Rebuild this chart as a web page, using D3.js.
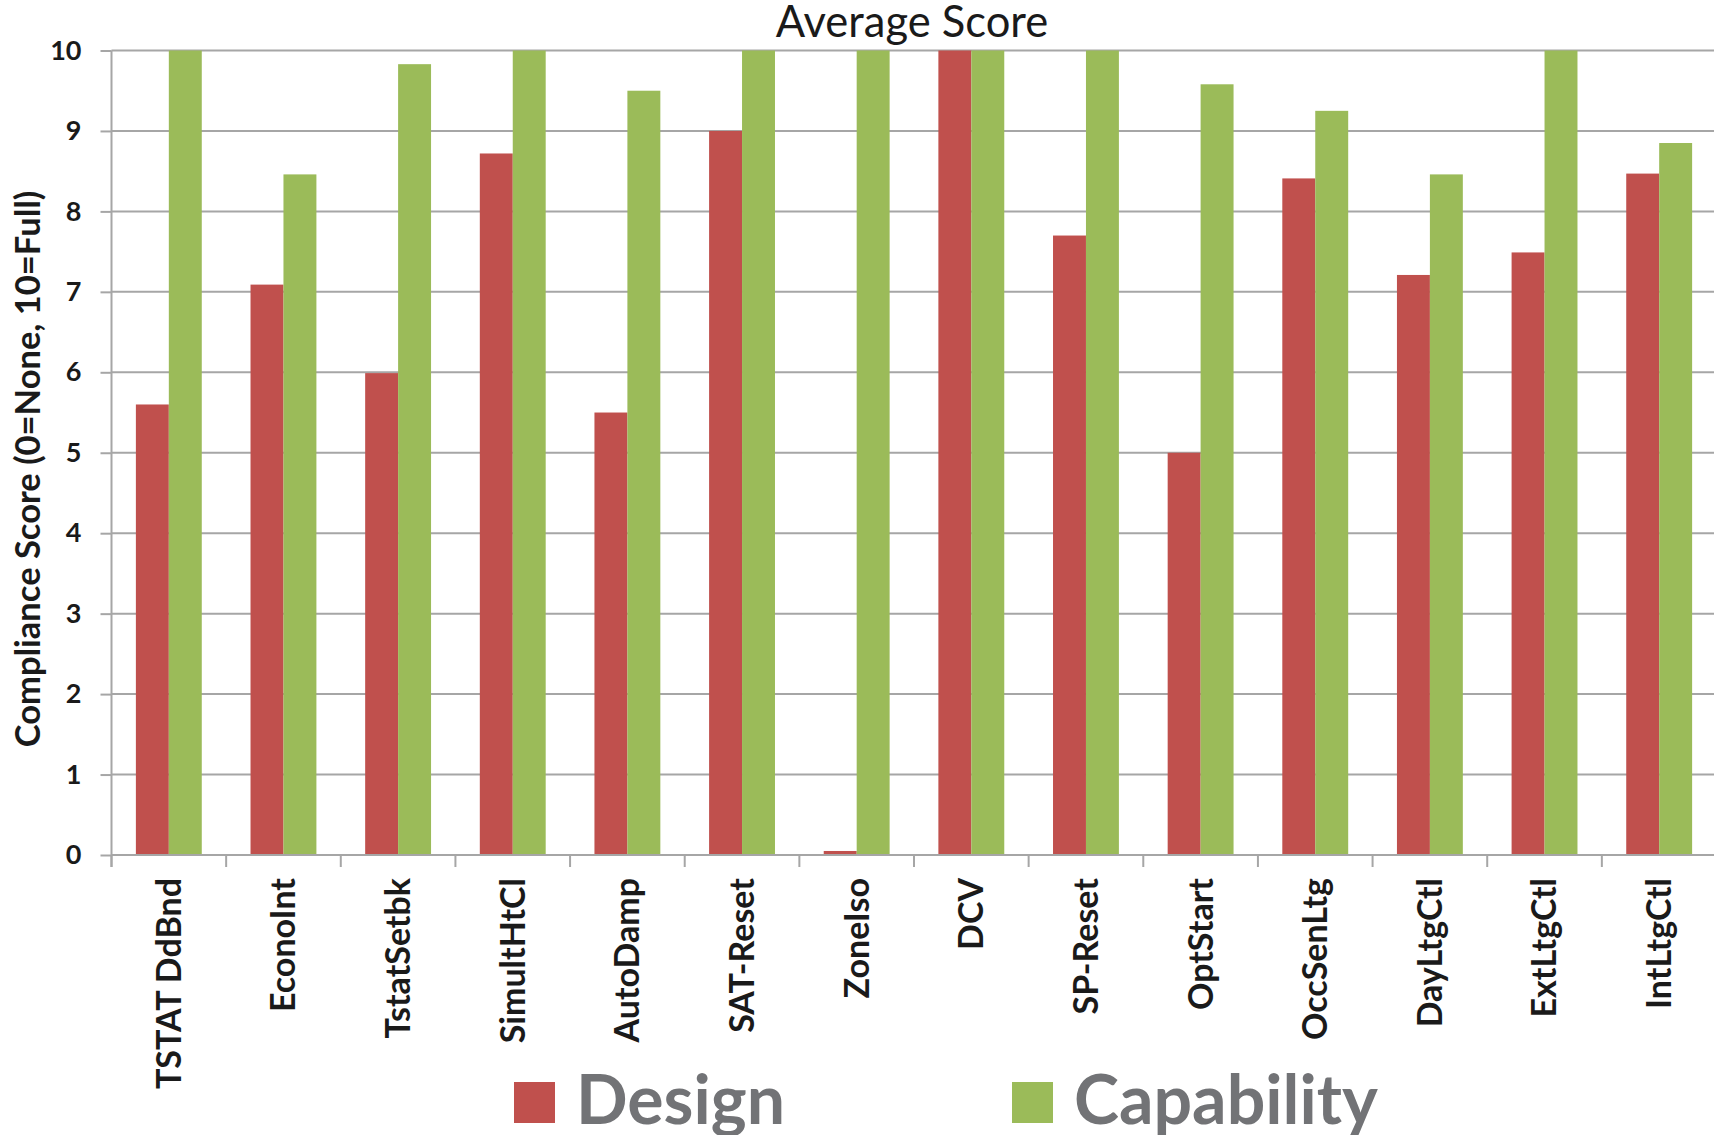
<!DOCTYPE html>
<html>
<head>
<meta charset="utf-8">
<script src="https://cdn.jsdelivr.net/npm/d3@7"></script>
<style>
  body { margin: 0; background: #fff; overflow: hidden; }
  text { font-family: Lato, "Open Sans", sans-serif; }
</style>
</head>
<body>
<div id="barchart"></div>
<script>
// data
var categories = ["TSTAT DdBnd", "EconoInt", "TstatSetbk", "SimultHtCl", "AutoDamp", "SAT-Reset",
  "ZoneIso", "DCV", "SP-Reset", "OptStart", "OccSenLtg", "DayLtgCtl", "ExtLtgCtl", "IntLtgCtl"];
var design = [5.60, 7.09, 5.99, 8.72, 5.50, 9.00, 0.05, 10.0, 7.70, 5.00, 8.41, 7.21, 7.49, 8.47];
var capability = [10.0, 8.46, 9.83, 10.0, 9.50, 10.0, 10.0, 10.0, 10.0, 9.58, 9.25, 8.46, 10.0, 8.85];
var seriesNames = ["Design", "Capability"];
var yTicks = [0, 1, 2, 3, 4, 5, 6, 7, 8, 9, 10];
var colors = ['#c0504d', '#9bbb59'];

var width = 1714,
    height = 1135;
var margin = { top: 50.5, left: 111.5 };
var innerWidth = 1605,
    innerHeight = 804.5;

function createBarchart() {

    var xScale = d3.scaleBand()
        .domain(categories)
        .range([0, innerWidth])
        .padding(0);

    var x1Scale = d3.scaleBand()
        .domain(seriesNames)
        .range([0, xScale.bandwidth()])
        .paddingInner(0)
        .paddingOuter(0.74);

    var yScale = d3.scaleLinear()
        .domain([0, 10])
        .range([innerHeight, 0]);

    var colorScale = d3.scaleOrdinal()
        .domain(seriesNames)
        .range(colors);

    var svg = d3.select("#barchart")
        .append("svg")
        .attr("width", width)
        .attr("height", height);

    var g = svg.append("g")
        .attr("transform", "translate(" + margin.left + "," + margin.top + ")");

    // gridlines
    g.append("g")
        .selectAll("line")
        .data(yTicks)
        .join("line")
        .attr("x1", 0)
        .attr("x2", innerWidth)
        .attr("y1", d => yScale(d))
        .attr("y2", d => yScale(d))
        .attr("stroke", "#a6a6a6")
        .attr("stroke-width", 2);

    // y axis
    var yAxis = d3.axisLeft(yScale)
        .tickValues(yTicks)
        .tickSize(11)
        .tickPadding(19)
        .tickFormat(d3.format("d"));

    var yG = g.append("g").call(yAxis);
    yG.select(".domain").remove();
    yG.selectAll(".tick line").attr("stroke", "#a6a6a6").attr("stroke-width", 2);
    yG.selectAll(".tick text")
        .attr("fill", "#1a1a1a")
        .style("font-size", "27px")
        .style("font-weight", "bold");

    // bars
    var rows = []
    categories.forEach(function (c, i) {
        rows.push({ cat: c, values: [{ s: "Design", v: design[i] }, { s: "Capability", v: capability[i] }] });
    });

    var cg = g.append("g")
        .selectAll("g")
        .data(rows)
        .join("g")
        .attr("transform", d => "translate(" + xScale(d.cat) + ",0)");

    cg.selectAll("rect")
        .data(d => d.values)
        .join("rect")
        .attr("x", d => x1Scale(d.s))
        .attr("width", x1Scale.bandwidth())
        .attr("y", d => yScale(d.v))
        .attr("height", d => yScale(0) - yScale(d.v))
        .attr("fill", d => colorScale(d.s));

    // x axis line and boundary ticks
    var axisG = g.append("g")
        .attr("transform", "translate(0," + innerHeight + ")");

    axisG.append("line")
        .attr("x1", 0).attr("x2", innerWidth)
        .attr("stroke", "#a6a6a6").attr("stroke-width", 2);

    var bounds = categories.map(c => xScale(c)).concat([innerWidth]);
    axisG.selectAll(".bt")
        .data(bounds)
        .join("line")
        .attr("class", "bt")
        .attr("x1", d => d).attr("x2", d => d)
        .attr("y1", 0).attr("y2", 12)
        .attr("stroke", "#a6a6a6").attr("stroke-width", 2);

    g.append("line")
        .attr("x1", 0).attr("x2", 0)
        .attr("y1", 0).attr("y2", innerHeight + 12)
        .attr("stroke", "#a6a6a6").attr("stroke-width", 2);

    axisG.selectAll(".xl")
        .data(categories)
        .join("text")
        .attr("class", "xl")
        .attr("transform", d => "translate(" + (xScale(d) + xScale.bandwidth() / 2) + ",0) rotate(-90)")
        .attr("x", -23)
        .attr("dy", "0.35em")
        .style("text-anchor", "end")
        .style("font-size", "34px")
        .style("font-weight", "bold")
        .attr("fill", "#1a1a1a")
        .text(d => d);

    // title
    svg.append("text")
        .attr("x", 912)
        .attr("y", 37)
        .style("text-anchor", "middle")
        .style("font-size", "43.5px")
        .attr("fill", "#1a1a1a")
        .text("Average Score");

    // y axis title
    svg.append("text")
        .attr("transform", "translate(28,469) rotate(-90)")
        .attr("dy", "0.35em")
        .style("text-anchor", "middle")
        .style("font-size", "34.5px")
        .style("font-weight", "bold")
        .attr("fill", "#1a1a1a")
        .text("Compliance Score (0=None, 10=Full)");

    // legend
    var legendX = [514, 1012];
    var lg = svg.append("g")
        .selectAll("g")
        .data(seriesNames)
        .join("g")
        .attr("transform", (d, i) => "translate(" + legendX[i] + ",1082)");

    lg.append("rect")
        .attr("width", 41)
        .attr("height", 41)
        .attr("fill", d => colorScale(d));

    lg.append("text")
        .attr("x", 62)
        .attr("y", 42)
        .style("font-size", "68px")
        .style("font-weight", "bold")
        .attr("fill", "#727376")
        .text(d => d);
}

createBarchart();
</script>
</body>
</html>
